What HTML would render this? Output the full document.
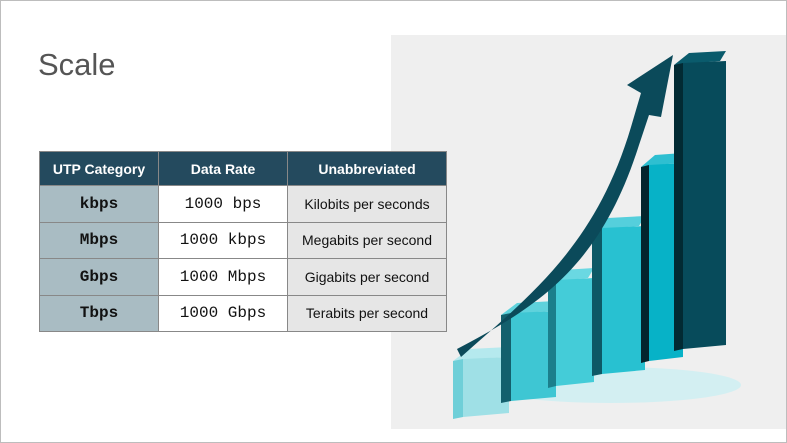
<!DOCTYPE html>
<html><head><meta charset="utf-8"><style>
body{margin:0;width:787px;height:443px;overflow:hidden;background:#fff;font-family:"Liberation Sans",sans-serif}
#slide{position:absolute;left:0;top:0;width:785px;height:441px;border:1px solid #bdbdbd;background:#fff}
h1{position:absolute;left:37px;top:46px;margin:0;font-size:31px;font-weight:normal;color:#555}
table{position:absolute;left:38px;top:150px;border-collapse:collapse;font-size:14px}
td,th{border:1px solid #888;text-align:center;padding:0}
th{background:#244a5e;color:#fff;height:33px;font-weight:bold}
td{height:35.5px}
td.c1{background:#a9bcc3;font-family:"Liberation Mono",monospace;font-weight:bold;font-size:16px;color:#111}
td.c2{background:#fff;font-family:"Liberation Mono",monospace;font-size:16px;color:#111}
td.c3{background:#e6e6e6;color:#111}
#pic{position:absolute;left:390px;top:34px;width:395px;height:394px;background:#efefef}
</style></head><body>
<div id="slide">
<h1>Scale</h1>
<div id="pic">
<svg id="svg" width="395" height="394"></svg>
</div>
<table>
<tr><th style="width:118px">UTP Category</th><th style="width:128px">Data Rate</th><th style="width:158px">Unabbreviated</th></tr>
<tr><td class="c1">kbps</td><td class="c2">1000 bps</td><td class="c3">Kilobits per seconds</td></tr>
<tr><td class="c1">Mbps</td><td class="c2">1000 kbps</td><td class="c3">Megabits per second</td></tr>
<tr><td class="c1">Gbps</td><td class="c2">1000 Mbps</td><td class="c3">Gigabits per second</td></tr>
<tr><td class="c1">Tbps</td><td class="c2">1000 Gbps</td><td class="c3">Terabits per second</td></tr>
</table>
</div>
<script>
const categories=["b1","b2","b3","b4","b5","b6"];
const heights=[62,92,110,150,200,290];
const ns="http://www.w3.org/2000/svg";
const svg=document.getElementById('svg');
const fronts=["#9fe0e6","#3ec6d3","#44ccd8","#28c1d1","#07b2c7","#074b5b"];
const sides=["#6fcfd8","#13606d","#1b7f8c","#0d5966","#03252d","#022a33"];
const tops=["#b5e9ee","#5fd2dc","#6ad8e2","#55cfdc","#2ebfd1","#0a5b6c"];
const xs=[62,110,157,201,250,283],ws=[56,55,46,53,42,52],bots=[384,368,353,341,328,316];
function mk(t,a){const e=document.createElementNS(ns,t);for(const k in a)e.setAttribute(k,a[k]);svg.appendChild(e);return e;}
const glow=mk('ellipse',{cx:220,cy:350,rx:130,ry:18,fill:'#c7f0f3',opacity:0.7});


for(let i=0;i<categories.length;i++){
 const x=xs[i],w=ws[i],b=bots[i],t=b-heights[i];
 const sw=Math.round(w*0.18);
 const top=mk('polygon',{points:`${x},${t+4} ${x+sw+6},${t-8} ${x+w},${t-10} ${x+w-6},${t}`,fill:tops[i]});
 
 
 const side=mk('polygon',{points:`${x},${t+4} ${x+sw},${t+2} ${x+sw},${b-2} ${x},${b}`,fill:sides[i]});
 
 
 const front=mk('polygon',{points:`${x+sw},${t+2} ${x+w},${t} ${x+w},${b-6} ${x+sw},${b-2}`,fill:fronts[i]});
 
 
}
const arrow=mk('path',{d:'M66,314 C150,270 210,230 248,110 L258,80 L270,82 L282,20 L236,50 L250,58 L240,92 C205,210 140,260 70,322 Z',fill:'#0b4a5a'});


</script>
</body></html>
